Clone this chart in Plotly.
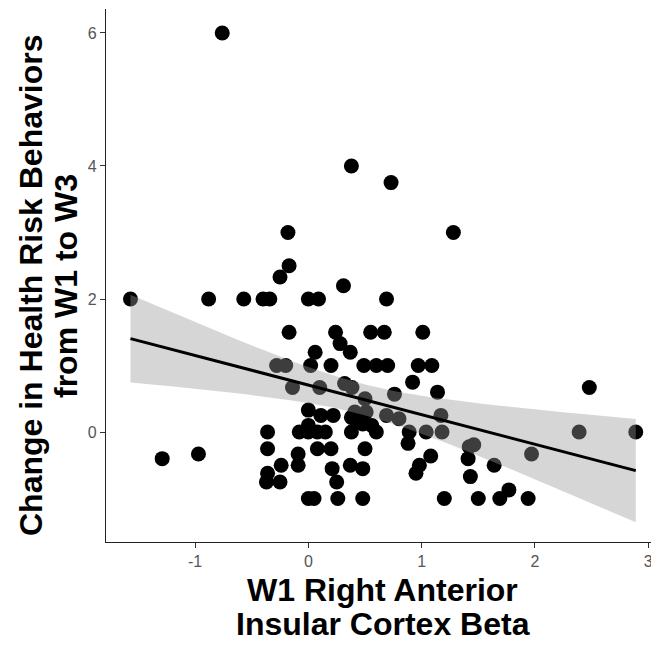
import numpy as np
import plotly.graph_objects as go

# W1 right anterior insular cortex beta (x) vs change in health risk behaviors (y)
beta = [
    -0.76, 0.38, 0.73, -0.18, 1.28, -0.17, -0.25, 0.31,
    -1.57, -0.88, -0.57, -0.40, -0.34, 0.00, 0.09, 0.69,
    -0.17, 0.24, 0.55, 0.67, 1.01,
    0.28, 0.06, 0.37,
    -0.28, -0.20, 0.02, 0.20, 0.49, 0.60, 0.70, 0.97, 1.09,
    0.92, 0.32, -0.14, 0.10, 0.385, 1.14, 0.76, 0.50, 2.48,
    0.00, 0.41, 0.51, 0.11, 0.22, 0.38, 0.69, 1.17, 0.80, 0.43,
    0.00, 0.48, 0.56,
    -0.36, -0.08, 0.00, 0.08, 0.15, 0.38, 0.60, 0.89, 1.04, 1.18, 2.39, 2.89,
    0.88, 1.46, 1.42,
    -0.36, 0.08, 0.20, 0.50,
    -0.97, -0.09, 1.97, 1.08, -1.29, 1.41,
    -0.24, -0.09, 0.37, 0.98, 1.64,
    0.21, 0.48, -0.36, 0.95, 1.43,
    -0.37, -0.25, 0.25, 1.77,
    0.00, 0.05, 0.26, 0.48, 1.20, 1.50, 1.69, 1.94,
]
change = [
    6.0, 4.0, 3.75, 3.0, 3.0, 2.5, 2.33, 2.2,
    2.0, 2.0, 2.0, 2.0, 2.0, 2.0, 2.0, 2.0,
    1.5, 1.5, 1.5, 1.5, 1.5,
    1.33, 1.2, 1.2,
    1.0, 1.0, 1.0, 1.0, 1.0, 1.0, 1.0, 1.0, 1.0,
    0.75, 0.73, 0.67, 0.67, 0.67, 0.6, 0.57, 0.5, 0.67,
    0.33, 0.3, 0.3, 0.25, 0.25, 0.22, 0.25, 0.25, 0.2, 0.16,
    0.1, 0.12, 0.1,
    0.0, 0.0, 0.0, 0.0, 0.0, 0.0, 0.0, 0.0, 0.0, 0.0, 0.0, 0.0,
    -0.17, -0.19, -0.22,
    -0.25, -0.25, -0.25, -0.25,
    -0.33, -0.33, -0.33, -0.36, -0.4, -0.4,
    -0.5, -0.5, -0.5, -0.5, -0.5,
    -0.55, -0.55, -0.62, -0.62, -0.67,
    -0.75, -0.75, -0.75, -0.87,
    -1.0, -1.0, -1.0, -1.0, -1.0, -1.0, -1.0, -1.0,
]
x_ticks = [-1, 0, 1, 2, 3]
x_tick_labels = ["-1", "0", "1", "2", "3"]
y_ticks = [0, 2, 4, 6]
y_tick_labels = ["0", "2", "4", "6"]
x_title = ["W1 Right Anterior", "Insular Cortex Beta"]
y_title = ["Change in Health Risk Behaviors", "from W1 to W3"]

# linear model fit with 95% CI (as geom_smooth(method = "lm"))
x = np.array(beta)
y = np.array(change)
n = len(x)
b1, b0 = np.polyfit(x, y, 1)
resid = y - (b0 + b1 * x)
s = np.sqrt(np.sum(resid ** 2) / (n - 2))
xm = x.mean()
sxx = np.sum((x - xm) ** 2)
xg = np.linspace(x.min(), x.max(), 80)
yg = b0 + b1 * xg
se = s * np.sqrt(1.0 / n + (xg - xm) ** 2 / sxx)
tq = 1.984
lo = yg - tq * se
hi = yg + tq * se

fig = go.Figure()
fig.add_trace(go.Scatter(
    x=beta, y=change, mode="markers",
    marker=dict(size=15, color="black", line=dict(width=0)),
    showlegend=False, hoverinfo="skip"))
fig.add_trace(go.Scatter(
    x=np.concatenate([xg, xg[::-1]]), y=np.concatenate([hi, lo[::-1]]),
    mode="lines", fill="toself", fillcolor="rgba(153,153,153,0.4)",
    line=dict(width=0), showlegend=False, hoverinfo="skip"))
fig.add_trace(go.Scatter(
    x=xg, y=yg, mode="lines", line=dict(color="black", width=3),
    showlegend=False, hoverinfo="skip"))

axis_common = dict(
    showgrid=False, zeroline=False, showline=True, linecolor="#222", linewidth=1.3,
    ticks="outside", ticklen=5, tickcolor="#333", tickwidth=1.1,
    ticklabeloverflow="allow",
    tickfont=dict(family="Liberation Sans, Arial, sans-serif", size=16, color="#555"),
)
fig.update_xaxes(range=[-1.786, 3.095], tickvals=x_ticks, ticktext=x_tick_labels, **axis_common)
fig.update_yaxes(range=[-1.653, 6.36], tickvals=y_ticks, ticktext=y_tick_labels, **axis_common)

# page has an 8px body margin: size the figure so it ends at the window edge
OFF = 8
W, H = 659 - OFF, 646 - OFF
ml, mt = 106 - OFF, 9 - OFF
mr = 0
mb = H - (542 - OFF)
pw, ph = W - ml - mr, H - mt - mb
tfont = dict(family="Liberation Sans, Arial, sans-serif", size=32, color="black")
ann = []
for txt, py in zip(x_title, [590, 624]):
    ann.append(dict(text="<b>%s</b>" % txt, xref="paper", yref="paper",
                    x=0.5, y=(H - mb - (py - OFF)) / ph, xanchor="center", yanchor="middle",
                    showarrow=False, font=tfont))
for txt, px in zip(y_title, [31, 66]):
    ann.append(dict(text="<b>%s</b>" % txt, xref="paper", yref="paper",
                    x=(px - OFF - ml) / pw, y=(H - mb - (286 - OFF)) / ph,
                    xanchor="center", yanchor="middle",
                    textangle=-90, showarrow=False, font=tfont))

fig.update_layout(
    width=W, height=H, margin=dict(l=ml, r=mr, t=mt, b=mb),
    paper_bgcolor="white", plot_bgcolor="white", annotations=ann,
)
fig.write_html("out.html")
